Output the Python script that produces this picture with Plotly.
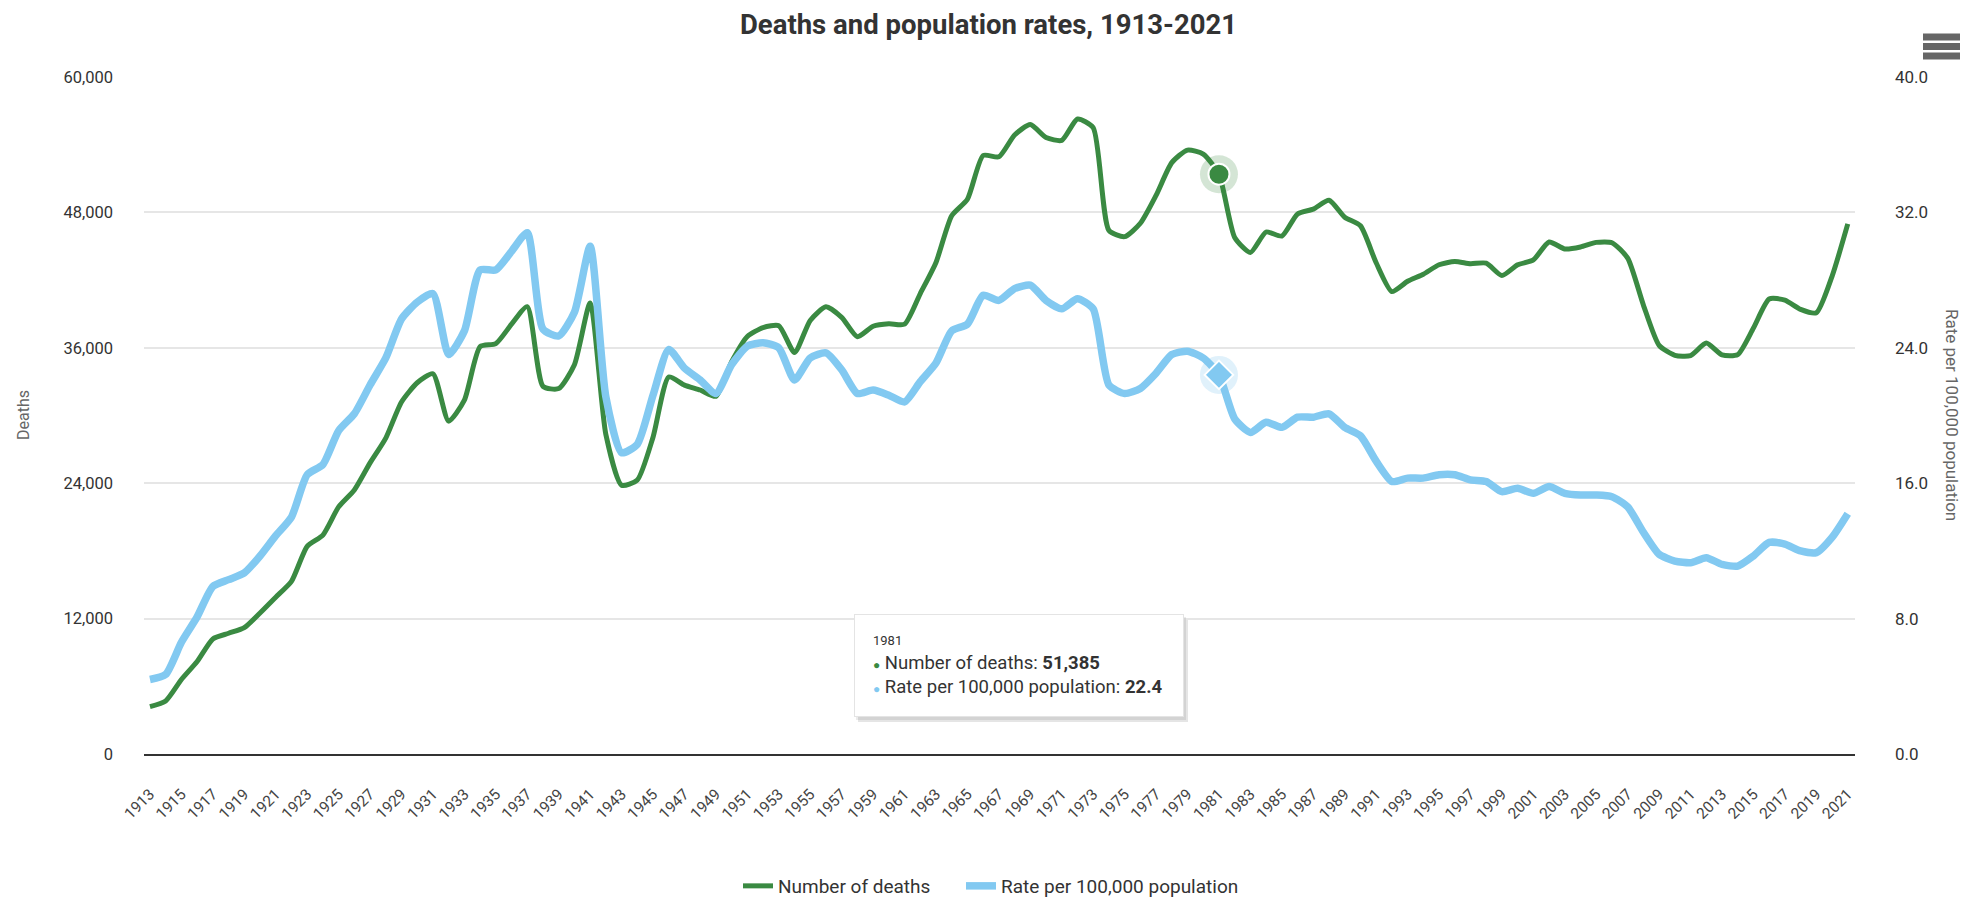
import plotly.graph_objects as go

years = list(range(1913, 2022))

deaths = [
    4200, 4700, 6600, 8200, 10200, 10700, 11200, 12500, 13900, 15300,
    18400, 19400, 21900, 23400, 25800, 28000, 31200, 32900, 33700, 29500,
    31363, 36101, 36369, 38089, 39643, 32582, 32386, 34501, 39969, 28309,
    23823, 24282, 28076, 33411, 32697, 32259, 31701, 34763, 36996, 37794,
    37956, 35586, 38426, 39628, 38702, 36981, 37910, 38137, 38091, 40804,
    43564, 47700, 49163, 53041, 52924, 54862, 55791, 54633, 54381, 56278,
    55511, 46402, 45853, 47038, 49510, 52411, 53524, 53172, 51385, 45779,
    44452, 46263, 45901, 47865, 48290, 49078, 47575, 46814, 43536, 40982,
    41893, 42524, 43363, 43649, 43458, 43501, 42401, 43354, 43788, 45380,
    44757, 44933, 45343, 45316, 43945, 39790, 36216, 35332, 35303, 36415,
    35369, 35398, 37757, 40327, 40231, 39404, 39107, 42339, 46980,
]

rates = [
    4.4, 4.7, 6.6, 8.1, 9.9, 10.3, 10.7, 11.7, 12.9, 14.0,
    16.5, 17.1, 19.1, 20.1, 21.8, 23.4, 25.7, 26.7, 27.2, 23.6,
    25.0, 28.6, 28.6, 29.7, 30.8, 25.1, 24.7, 26.1, 30.0, 21.1,
    17.8, 18.3, 21.2, 23.9, 22.8, 22.1, 21.3, 23.0, 24.1, 24.3,
    24.0, 22.1, 23.4, 23.7, 22.7, 21.3, 21.5, 21.2, 20.8, 22.0,
    23.1, 25.0, 25.4, 27.1, 26.8, 27.5, 27.7, 26.8, 26.3, 26.9,
    26.3, 21.8, 21.3, 21.6, 22.5, 23.6, 23.8, 23.4, 22.4, 19.8,
    19.0, 19.6, 19.3, 19.9, 19.9, 20.1, 19.3, 18.8, 17.3, 16.1,
    16.3, 16.3, 16.5, 16.5, 16.2, 16.1, 15.5, 15.7, 15.4, 15.8,
    15.4, 15.3, 15.3, 15.2, 14.6, 13.1, 11.8, 11.4, 11.3, 11.6,
    11.2, 11.1, 11.7, 12.5, 12.4, 12.0, 11.9, 12.8, 14.2,
]

x_ticks = years[::2]
deaths_ticks = [0, 12000, 24000, 36000, 48000, 60000]
rate_ticks = [0, 8, 16, 24, 32, 40]
hover_year = 1981

GREEN = "#3a8a42"
BLUE = "#82c9f1"
FONT = "Roboto"

# plot area in pixels
L, R, T, B = 144, 1855, 77, 754
W, H = 1977, 897


def px_x(p):
    return (p - L) / (R - L)


def px_y(p):
    return (B - p) / (B - T)


i = years.index(hover_year)

fig = go.Figure()
fig.add_trace(
    go.Scatter(
        x=years, y=rates, yaxis="y2", mode="lines", legend="legend2",
        name="Rate per 100,000 population",
        line={"color": BLUE, "width": 7.5, "shape": "spline", "smoothing": 0.6},
    )
)
fig.add_trace(
    go.Scatter(
        x=years, y=deaths, mode="lines", legend="legend",
        name="Number of deaths",
        line={"color": GREEN, "width": 5, "shape": "spline", "smoothing": 0.6},
    )
)
# hover highlight markers
fig.add_trace(go.Scatter(x=[years[i]], y=[deaths[i]], mode="markers", showlegend=False,
                         hoverinfo="skip", marker={"size": 38, "color": GREEN, "opacity": 0.22}))
fig.add_trace(go.Scatter(x=[years[i]], y=[deaths[i]], mode="markers", showlegend=False,
                         hoverinfo="skip",
                         marker={"size": 21, "color": GREEN, "line": {"color": "white", "width": 2}}))
fig.add_trace(go.Scatter(x=[years[i]], y=[rates[i]], yaxis="y2", mode="markers", showlegend=False,
                         hoverinfo="skip", marker={"size": 38, "color": BLUE, "opacity": 0.25}))
fig.add_trace(go.Scatter(x=[years[i]], y=[rates[i]], yaxis="y2", mode="markers", showlegend=False,
                         hoverinfo="skip",
                         marker={"symbol": "diamond", "size": 22, "color": BLUE,
                                 "line": {"color": "white", "width": 2}}))

tooltip = (
    f"<span style='font-size:13px'>{hover_year}</span><br>"
    f"<span style='color:{GREEN};font-size:12px'>●</span> Number of deaths: <b>{deaths[i]:,}</b><br>"
    f"<span style='color:{BLUE};font-size:12px'>●</span> Rate per 100,000 population: <b>{rates[i]:.1f}</b>"
)

shapes = [
    # tooltip shadow
    dict(type="rect", xref="paper", yref="paper", x0=px_x(858), x1=px_x(1188), y0=px_y(620),
         y1=px_y(722), fillcolor="rgba(0,0,0,0.10)", line={"width": 0}, layer="above"),
    dict(type="rect", xref="paper", yref="paper", x0=px_x(856), x1=px_x(1186), y0=px_y(617),
         y1=px_y(720), fillcolor="rgba(0,0,0,0.08)", line={"width": 0}, layer="above"),
]
# menu icon
for yy in (37, 46.5, 56):
    shapes.append(dict(type="line", xref="paper", yref="paper", x0=px_x(1923), x1=px_x(1960),
                       y0=px_y(yy), y1=px_y(yy), line={"color": "#666666", "width": 7}))

annotations = [
    dict(text=tooltip, xref="paper", yref="paper", x=px_x(854), y=px_y(614), xanchor="left",
         yanchor="top", align="left", valign="middle", showarrow=False, bgcolor="white",
         bordercolor="#e4e4e4", borderwidth=1, borderpad=18, width=292, height=65,
         font={"family": FONT, "size": 18.5, "color": "#333333"}),
    dict(text="Deaths", xref="paper", yref="paper", x=px_x(24), y=px_y(415), textangle=-90,
         xanchor="center", yanchor="middle", showarrow=False,
         font={"family": FONT, "size": 16, "color": "#666666"}),
    dict(text="Rate per 100,000 population", xref="paper", yref="paper", x=px_x(1952),
         y=px_y(415), textangle=90, xanchor="center", yanchor="middle", showarrow=False,
         font={"family": FONT, "size": 17, "color": "#666666"}),
]

legend_style = {"orientation": "h", "xref": "container", "yref": "container",
                "y": 1 - 886 / H, "xanchor": "left", "yanchor": "middle",
                "font": {"family": FONT, "size": 19, "color": "#333333"},
                "bgcolor": "rgba(0,0,0,0)"}

fig.update_layout(
    width=W,
    height=H,
    margin={"l": L, "r": W - R, "t": T, "b": H - B},
    paper_bgcolor="white",
    plot_bgcolor="white",
    font={"family": FONT, "color": "#333333"},
    title={"text": "<b>Deaths and population rates, 1913-2021</b>", "x": 0.5, "xref": "container",
           "y": 1 - 24 / H, "yref": "container", "yanchor": "middle", "xanchor": "center",
           "font": {"family": FONT, "size": 27.5, "color": "#333333"}},
    xaxis={"range": [1912.62, 2021.46], "tickvals": x_ticks, "tickangle": -45, "showgrid": False,
           "showline": True, "linecolor": "#333333", "linewidth": 2, "zeroline": False,
           "ticks": "outside", "ticklen": 23, "tickcolor": "rgba(0,0,0,0)",
           "tickfont": {"family": FONT, "size": 15.5, "color": "#444444"}},
    yaxis={"range": [0, 60000], "tickvals": deaths_ticks, "tickformat": ",", "showgrid": True,
           "gridcolor": "#e6e6e6", "gridwidth": 1.5, "zeroline": False, "showline": False,
           "ticks": "", "ticklabelstandoff": 30,
           "tickfont": {"family": FONT, "size": 16.5, "color": "#333333"}},
    yaxis2={"range": [0, 40], "tickvals": rate_ticks, "tickformat": ".1f", "overlaying": "y",
            "side": "right", "showgrid": False, "zeroline": False, "showline": False,
            "ticks": "", "ticklabelstandoff": 39,
            "tickfont": {"family": FONT, "size": 17, "color": "#333333"}},
    legend={**legend_style, "x": 738 / W},
    legend2={**legend_style, "x": 961 / W},
    shapes=shapes,
    annotations=annotations,
    hovermode=False,
)

fig.write_html("out.html", config={"displayModeBar": False},
               post_script="document.body.style.margin='0';")
